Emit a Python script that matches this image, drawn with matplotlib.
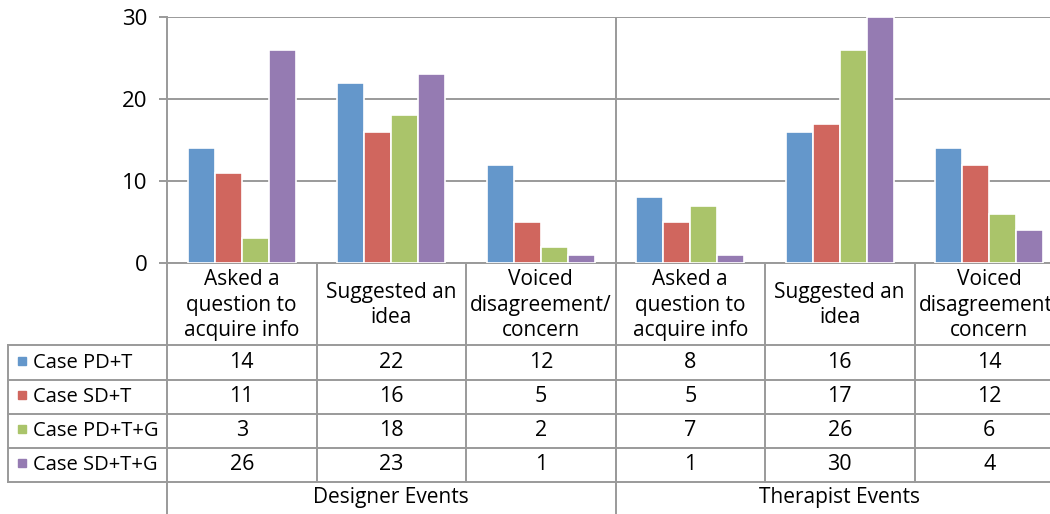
import matplotlib.pyplot as plt
from matplotlib.transforms import blended_transform_factory
import numpy as np

plt.rcParams['font.family'] = ['Open Sans', 'DejaVu Sans']

categories = ["Asked a\nquestion to\nacquire info", "Suggested an\nidea",
              "Voiced\ndisagreement/\nconcern"] * 2
groups = ["Designer Events", "Therapist Events"]
series = ["Case PD+T", "Case SD+T", "Case PD+T+G", "Case SD+T+G"]
pd_t = [14, 22, 12, 8, 16, 14]
sd_t = [11, 16, 5, 5, 17, 12]
pd_t_g = [3, 18, 2, 7, 26, 6]
sd_t_g = [26, 23, 1, 1, 30, 4]
values = [pd_t, sd_t, pd_t_g, sd_t_g]
colors = ["#6497CB", "#D0665E", "#AAC46A", "#957BB2"]

W, H = 1050, 514
fig = plt.figure(figsize=(W / 100, H / 100), dpi=100)

def fy(p):
    # pixel row from the top -> figure fraction
    return 1 - p / H

x0, x1 = 167, 1064
ax = fig.add_axes([x0 / W, fy(263), (x1 - x0) / W, (263 - 17) / H])
ax.patch.set_alpha(0)

gray = "#9A9A9A"
x = np.arange(len(categories))
bw = 0.18
for k, (name, vals, c) in enumerate(zip(series, values, colors)):
    ax.bar(x + (k - 1.5) * bw, vals, bw, color=c, edgecolor="white",
           linewidth=1.2, zorder=3)

ax.set_xlim(-0.5, len(categories) - 0.5)
ax.set_ylim(0, 30)
ax.set_yticks([0, 10, 20, 30])
ax.set_xticks([])
ax.yaxis.grid(True, color=gray, linewidth=1.4, zorder=1)
ax.axvline(2.5, color=gray, linewidth=1.4, zorder=1)
for s in ["top", "right"]:
    ax.spines[s].set_visible(False)
for s in ["left", "bottom"]:
    ax.spines[s].set_color(gray)
    ax.spines[s].set_linewidth(1.4)
ax.tick_params(axis="y", length=6, width=1.4, color=gray, labelsize=16, pad=8)

# data table under the chart
tr = blended_transform_factory(ax.transData, fig.transFigure)
row_edges = [263, 345, 380, 414, 448, 482]
left = 8
lw = 1.4

def hline(p, xa, xb, trans):
    fig.add_artist(plt.Line2D([xa, xb], [fy(p), fy(p)], transform=trans,
                              color=gray, linewidth=lw))

def vline(xv, pa, pb, trans):
    fig.add_artist(plt.Line2D([xv, xv], [fy(pa), fy(pb)], transform=trans,
                              color=gray, linewidth=lw))

for p in row_edges[1:]:
    hline(p, left / W, 1.0, fig.transFigure)
vline(left / W, 345, 482, fig.transFigure)
for b in np.arange(0.5, len(categories) - 0.5, 1.0):
    vline(b, 263, 482, tr)
vline(-0.5, 263, H, tr)
vline(2.5, 263, H, tr)

for i, lab in enumerate(categories):
    fig.text(i, fy(305), lab, transform=tr, ha="center", va="center",
             fontsize=15, linespacing=1.3)

for r, (name, vals, c) in enumerate(zip(series, values, colors)):
    yc = fy((row_edges[r + 1] + row_edges[r + 2]) / 2)
    fig.add_artist(plt.Rectangle((18 / W, yc - 4 / H + 2 / H), 8 / W, 8 / H,
                                 transform=fig.transFigure, color=c))
    fig.text(33 / W, yc, name, ha="left", va="center", fontsize=14.5)
    for i, v in enumerate(vals):
        fig.text(i, yc, str(v), transform=tr, ha="center", va="center",
                 fontsize=15.5)

for g, lab in enumerate(groups):
    fig.text(3 * g + 1, fy(498), lab, transform=tr, ha="center",
             va="center", fontsize=15)

fig.savefig("out.png", dpi=100)
